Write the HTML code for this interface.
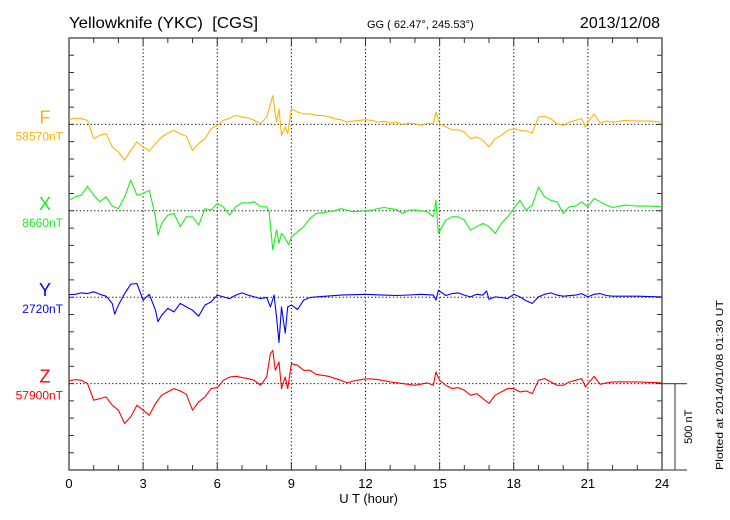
<!DOCTYPE html>
<html><head><meta charset="utf-8"><style>
html,body{margin:0;padding:0;background:#fff;}
svg{display:block;font-family:"Liberation Sans",sans-serif;}
</style></head><body>
<svg id="chart" width="730" height="520" viewBox="0 0 730 520" xmlns="http://www.w3.org/2000/svg">
<text x="69" y="28" font-size="16" xml:space="preserve" style="white-space:pre" textLength="189" lengthAdjust="spacingAndGlyphs">Yellowknife (YKC)  [CGS]</text>
<text x="367" y="28" font-size="11">GG ( 62.47°, 245.53°)</text>
<text x="660" y="28" font-size="16" text-anchor="end">2013/12/08</text>
<text transform="translate(723,470) rotate(-90)" font-size="10" textLength="170" lengthAdjust="spacingAndGlyphs">Plotted at 2014/01/08 01:30 UT</text>
<g id="grid"></g>
<g id="axes"></g>
<g id="series"></g>
<g id="labels"></g>
<text x="398" y="503" font-size="13" text-anchor="end">U T (hour)</text>
</svg>
<script>
// ---- data (values in nT relative to baseline) ----
const hourTicks = [0,3,6,9,12,15,18,21,24];
const seriesNames = ["F","X","Y","Z"];
const baseLabels = ["58570nT","8660nT","2720nT","57900nT"];
const baseOffsets = [2000,1500,1000,500];
const fTimes=[0,0.25,0.5,0.75,1,1.25,1.5,1.75,2,2.25,2.5,2.75,3,3.25,3.5,3.75,4,4.25,4.5,4.75,5,5.25,5.5,5.75,6,6.25,6.5,6.75,7,7.25,7.5,7.75,8,8.25,8.4,8.5,8.6,8.75,8.85,9,9.25,9.5,9.75,10,10.25,10.5,10.75,11,11.25,11.5,11.75,12,12.25,12.5,12.75,13,13.25,13.5,13.75,14,14.25,14.5,14.75,14.85,15,15.25,15.5,15.75,16,16.25,16.5,16.75,17,17.25,17.5,17.75,18,18.25,18.5,18.75,19,19.25,19.5,19.75,20,20.25,20.5,20.75,20.9,21,21.25,21.5,21.75,22,22.5,23,23.5,24];
const fValues=[27,36,33,23,-83,-63,-54,-130,-160,-207,-150,-102,-130,-154,-111,-73,-50,-35,-54,-69,-150,-111,-83,-25,-6,23,36,52,42,38,23,4,42,167,13,90,-63,-15,-54,90,71,61,61,52,52,46,33,27,13,19,23,27,23,13,19,8,13,0,8,4,-6,8,4,71,4,-15,-31,-31,-44,-83,-73,-92,-130,-83,-63,-35,-25,-35,-38,-50,42,46,33,4,-6,13,23,33,-15,13,61,8,19,13,23,19,19,13];
const xTimes=[0,0.25,0.5,0.75,1,1.25,1.5,1.75,2,2.25,2.5,2.75,3,3.25,3.5,3.6,3.75,4,4.25,4.5,4.75,5,5.25,5.5,5.75,6,6.25,6.5,6.75,7,7.25,7.5,7.75,8,8.1,8.25,8.4,8.5,8.6,8.75,8.9,9,9.25,9.5,9.75,10,10.5,10.75,11,11.5,12,12.25,12.5,12.75,13,13.25,13.5,13.75,14,14.25,14.5,14.75,14.85,14.95,15.1,15.25,15.5,15.75,16,16.25,16.5,16.75,17,17.25,17.5,17.75,18,18.25,18.5,18.75,19,19.25,19.5,19.75,20,20.25,20.5,20.75,21,21.25,21.5,21.75,22,22.5,23,23.5,24];
const xValues=[61,81,90,142,90,52,81,27,13,81,177,90,100,119,-35,-140,-73,-25,-15,-92,-35,-35,-83,13,4,42,23,-25,23,46,46,52,23,23,-6,-227,-111,-188,-130,-159,-198,-150,-121,-92,-44,-15,-6,0,13,-6,0,4,13,19,13,8,-15,4,4,0,-6,-35,61,-130,-92,-54,-35,-35,-54,-111,-92,-73,-92,-130,-73,-35,13,61,4,33,138,81,61,52,-15,23,27,52,23,71,52,33,19,33,27,27,23];
const yTimes=[0,0.25,0.5,0.75,1,1.25,1.5,1.75,1.85,2,2.25,2.5,2.75,3,3.25,3.5,3.6,3.75,4,4.25,4.5,4.75,5,5.25,5.5,5.75,6,6.25,6.5,6.75,7,7.25,7.5,7.75,8,8.15,8.3,8.4,8.5,8.6,8.75,8.85,9,9.25,9.5,9.75,10,11,12,12.25,12.75,13.25,13.75,14.25,14.75,14.85,14.95,15.25,15.5,15.75,16,16.25,16.5,16.75,16.9,17,17.25,17.5,17.75,18,18.25,18.5,18.75,19,19.25,19.5,19.75,20,20.5,20.75,21,21.25,21.5,21.75,22,23,24];
const yValues=[15,17,25,21,31,17,6,-36,-98,-46,21,75,79,-17,17,-75,-142,-104,-65,-85,-36,-56,-75,-110,-46,-27,12,2,-8,12,25,12,2,-8,-2,-56,12,-113,-263,-56,-208,-56,-46,-71,-17,-2,2,12,17,15,12,10,13,17,12,-17,40,10,21,25,12,2,17,12,36,-13,2,-2,-8,17,2,-21,-36,2,17,25,12,6,12,21,2,17,21,10,6,6,2];
const zTimes=[0,0.25,0.5,0.75,1,1.25,1.5,1.75,2,2.25,2.5,2.75,3,3.25,3.5,3.75,4,4.25,4.5,4.75,5,5.25,5.5,5.75,6,6.25,6.5,6.75,7,7.25,7.5,7.75,8,8.15,8.25,8.35,8.5,8.6,8.75,8.85,9,9.25,9.5,9.75,10,10.5,11,11.25,11.5,12,12.25,12.5,13,13.5,14,14.5,14.75,14.85,15,15.25,15.5,15.75,16,16.25,16.5,16.75,17,17.25,17.5,17.75,18,18.25,18.5,18.75,19,19.25,19.5,19.75,20,20.25,20.5,20.75,20.9,21,21.25,21.5,21.75,22,23,24];
const zValues=[15,23,19,0,-96,-87,-77,-125,-154,-231,-192,-125,-154,-183,-115,-67,-48,-29,-42,-62,-154,-106,-77,-29,-23,19,38,42,35,29,19,-10,38,173,192,77,125,-29,38,-29,115,106,77,77,54,42,19,4,15,27,27,23,10,0,-10,4,-10,67,19,-10,-29,-23,-38,-67,-58,-87,-115,-67,-48,-29,-29,-48,-42,-58,19,29,10,-10,-10,10,19,29,-19,0,42,-4,4,10,10,4];
const allTimes=[fTimes,xTimes,yTimes,zTimes];
const allValues=[fValues,xValues,yValues,zValues];
const colors=["#ffb400","#18ee18","#0000ff","#ff0000"];

// ---- axes functions ----
const L=69,R=662,T=38,B=470;
const xs=t=>L+(R-L)*t/24;
const ys=v=>B-(B-T)*v/2500;
const NS="http://www.w3.org/2000/svg";
function mk(tag,attrs,parent){const e=document.createElementNS(NS,tag);for(const k in attrs)e.setAttribute(k,attrs[k]);parent.appendChild(e);return e;}
const grid=document.getElementById('grid'),axes=document.getElementById('axes'),ser=document.getElementById('series'),lab=document.getElementById('labels');

hourTicks.forEach(h=>{
  if(h>0&&h<24){
    const g=mk('line',{x1:xs(h),x2:xs(h),y1:T,y2:B,stroke:'#000','stroke-width':1,'stroke-dasharray':'1.2,2.4'},grid);
    
    
  }
  const tl=mk('text',{x:xs(h),y:488,'font-size':13,'text-anchor':'middle'},lab);
  tl.textContent=h;
  
  
});
baseOffsets.forEach((b,i)=>{
  const g=mk('line',{x1:L,x2:R,y1:ys(b),y2:ys(b),stroke:'#000','stroke-width':1,'stroke-dasharray':'1.2,2.4'},grid);
  
  
});
const fr=mk('rect',{x:L,y:T,width:R-L,height:B-T,fill:'none',stroke:'#333','stroke-width':1.2},axes);


let tp='';
for(let h=1;h<24;h++){const len=h%3===0?8:5;tp+=`M${xs(h)},${B}v${-len}M${xs(h)},${T}v${len}`;}
for(let v=100;v<2500;v+=100){tp+=`M${L},${ys(v)}h5M${R},${ys(v)}h-5`;}
const tk=mk('path',{d:tp,stroke:'#333','stroke-width':1,fill:'none'},axes);


const sc=mk('path',{d:`M${R},${B}H687M${R},${ys(500)}H687M675,${ys(500)}V${B}`,stroke:'#555','stroke-width':1.2,fill:'none'},axes);


const st=mk('text',{transform:`translate(692,${(ys(500)+B)/2}) rotate(-90)`,'font-size':11,'text-anchor':'middle'},axes);
st.textContent='500 nT';



allTimes.forEach((ts,i)=>{
  const vs=allValues[i];
  const d=ts.map((t,j)=>(j?'L':'M')+xs(t).toFixed(1)+','+ys(baseOffsets[i]+vs[j]).toFixed(1)).join('');
  const p=mk('path',{d:d,stroke:colors[i],'stroke-width':1.1,fill:'none','stroke-linejoin':'round'},ser);
  
  
  const n=mk('text',{x:45,y:ys(baseOffsets[i])-1,'font-size':18,'text-anchor':'middle',fill:colors[i]},lab);
  n.textContent=seriesNames[i];
  
  
  const bl=mk('text',{x:63,y:ys(baseOffsets[i])+16,'font-size':12,'text-anchor':'end',fill:colors[i]},lab);
  bl.textContent=baseLabels[i];
  
  
});
</script>
</body></html>
